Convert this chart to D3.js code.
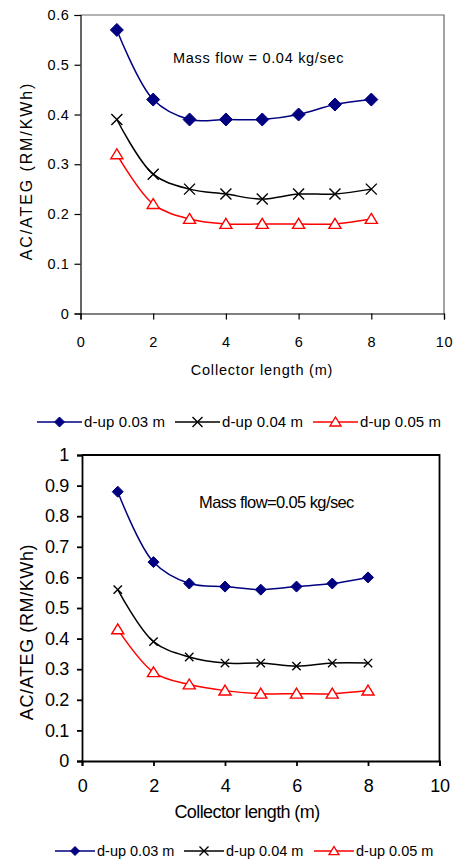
<!DOCTYPE html>
<html>
  <head>
    <meta charset="utf-8">
    <title>AC/ATEG vs collector length</title>
    <script src="https://d3js.org/d3.v7.min.js"></script>
    <style>
      body { margin: 0; background: #fff; }
      svg { display: block; font-family: "Liberation Sans", Arial, sans-serif; }
    </style>
  </head>
  <body>
    <svg id="chart" width="457" height="863"></svg>
    <script>
      // chart data
      const collectorLength = [1, 2, 3, 4, 5, 6, 7, 8];
      const seriesNames = ["d-up 0.03 m", "d-up 0.04 m", "d-up 0.05 m"];
      // mass flow 0.04 kg/sec
      const flow04Dup003 = [0.57, 0.43, 0.39, 0.39, 0.39, 0.40, 0.42, 0.43];
      const flow04Dup004 = [0.39, 0.28, 0.25, 0.24, 0.23, 0.24, 0.24, 0.25];
      const flow04Dup005 = [0.32, 0.22, 0.19, 0.18, 0.18, 0.18, 0.18, 0.19];
      // mass flow 0.05 kg/sec
      const flow05Dup003 = [0.88, 0.65, 0.58, 0.57, 0.56, 0.57, 0.58, 0.60];
      const flow05Dup004 = [0.56, 0.39, 0.34, 0.32, 0.32, 0.31, 0.32, 0.32];
      const flow05Dup005 = [0.43, 0.29, 0.25, 0.23, 0.22, 0.22, 0.22, 0.23];
      // ticks
      const xTicks = [0, 2, 4, 6, 8, 10];
      const yTicksTop = [0, 0.1, 0.2, 0.3, 0.4, 0.5, 0.6];
      const yTicksBottom = [0, 0.1, 0.2, 0.3, 0.4, 0.5, 0.6, 0.7, 0.8, 0.9, 1];
      const titles = ["Mass flow = 0.04 kg/sec", "Mass flow=0.05 kg/sec"];
      const xTitle = "Collector length (m)";
      const yTitle = "AC/ATEG (RM/KWh)";

      const colours = ["#000080", "#000000", "#ff0000"];
      const svg = d3.select("#chart");

      // marker shapes, centred on 0,0
      function marker(type, s) {
        if (type === 0) return "M0," + (-s) + "L" + s + ",0L0," + s + "L" + (-s) + ",0Z";
        if (type === 1) return "M" + (-s) + "," + (-s) + "L" + s + "," + s + "M" + (-s) + "," + s + "L" + s + "," + (-s);
        return "M0," + (-s) + "L" + (s * 1.1) + "," + (s * 0.8) + "L" + (-s * 1.1) + "," + (s * 0.8) + "Z";
      }

      function drawMarker(g, type, s, colour) {
        g.append("path")
          .attr("d", marker(type, s))
          .attr("fill", type === 0 ? colour : type === 2 ? "#fff" : "none")
          .attr("stroke", colour)
          .attr("stroke-width", type === 0 ? 1 : 1.4);
      }

      function drawChart(cfg) {
        const x = d3.scaleLinear().domain([0, 10]).range([cfg.left, cfg.right]);
        const y = d3.scaleLinear().domain([0, cfg.yMax]).range([cfg.bottom, cfg.top]);
        const g = svg.append("g");

        // frame (top and right)
        g.append("path")
          .attr("d", "M" + cfg.left + "," + cfg.top + "H" + cfg.right + "V" + cfg.bottom)
          .attr("fill", "none")
          .attr("stroke", cfg.frame)
          .attr("stroke-width", cfg.axisWidth);

        const yAxis = g.append("g")
          .attr("transform", "translate(" + cfg.left + ",0)")
          .call(d3.axisLeft(y).tickValues(cfg.yTicks).tickSizeOuter(0).tickSize(cfg.tick).tickPadding(cfg.yPad).tickFormat(d => String(d)));
        const xAxis = g.append("g")
          .attr("transform", "translate(0," + cfg.bottom + ")")
          .call(d3.axisBottom(x).tickValues(xTicks).tickSizeOuter(0).tickSize(cfg.tick).tickPadding(cfg.xPad).tickFormat(d => String(d)));
        [xAxis, yAxis].forEach(a => {
          a.select(".domain").attr("stroke", "#000").attr("stroke-width", cfg.axisWidth);
          a.selectAll(".tick line").attr("stroke", "#000").attr("stroke-width", cfg.axisWidth);
          a.selectAll(".tick text")
            .attr("fill", "#000")
            .style("font-size", cfg.tickFont + "px")
            .style("letter-spacing", cfg.tickSpacing + "px")
            .style("font-family", "Liberation Sans, Arial, sans-serif");
        });

        // series
        const line = d3.line()
          .x((d, i) => x(collectorLength[i]))
          .y(d => y(d))
          .curve(d3.curveCatmullRom.alpha(0.5));
        cfg.series.forEach((values, s) => {
          g.append("path")
            .attr("d", line(values))
            .attr("fill", "none")
            .attr("stroke", colours[s])
            .attr("stroke-width", 1.5);
        });
        cfg.series.forEach((values, s) => {
          values.forEach((v, i) => {
            const m = g.append("g")
              .attr("transform", "translate(" + x(collectorLength[i]) + "," + y(v) + ")");
            drawMarker(m, s, cfg.markerSize[s], colours[s]);
          });
        });

        // texts
        g.append("text")
          .attr("x", cfg.titleX).attr("y", cfg.titleY)
          .style("font-size", cfg.titleFont + "px")
          .style("letter-spacing", cfg.titleSpacing + "px")
          .text(cfg.title);
        g.append("text")
          .attr("x", cfg.xTitleX).attr("y", cfg.xTitleY)
          .attr("text-anchor", "middle")
          .style("font-size", cfg.xTitleFont + "px")
          .style("letter-spacing", cfg.xTitleSpacing + "px")
          .text(xTitle);
        g.append("text")
          .attr("transform", "translate(" + cfg.yTitleX + "," + cfg.yTitleY + ") rotate(-90)")
          .attr("text-anchor", "middle")
          .style("font-size", cfg.yTitleFont + "px")
          .style("letter-spacing", cfg.yTitleSpacing + "px")
          .text(yTitle);

        // legend
        const legend = g.append("g");
        seriesNames.forEach((name, s) => {
          const item = legend.append("g")
            .attr("transform", "translate(" + cfg.legendX[s] + "," + cfg.legendY + ")");
          item.append("line")
            .attr("x1", 0).attr("x2", cfg.legendLine)
            .attr("stroke", colours[s])
            .attr("stroke-width", 1.5);
          const m = item.append("g").attr("transform", "translate(" + (cfg.legendLine / 2) + ",0)");
          drawMarker(m, s, cfg.legendMarker, colours[s]);
          item.append("text")
            .attr("x", cfg.legendLine + 2)
            .attr("y", cfg.legendFont * 0.36)
            .style("font-size", cfg.legendFont + "px")
            .style("letter-spacing", cfg.legendSpacing + "px")
            .text(name);
        });
      }

      drawChart({
        left: 80.5, right: 444, top: 15, bottom: 313.5, yMax: 0.6, yTicks: yTicksTop,
        frame: "#666", axisWidth: 1.2, tick: 6, yPad: 5, xPad: 17,
        tickFont: 14.5, tickSpacing: 0.6,
        series: [flow04Dup003, flow04Dup004, flow04Dup005],
        markerSize: [6.5, 5.5, 5.5],
        title: titles[0], titleX: 173, titleY: 63, titleFont: 14.5, titleSpacing: 0.7,
        xTitleX: 262, xTitleY: 375, xTitleFont: 14.5, xTitleSpacing: 0.8,
        yTitleX: 32, yTitleY: 171, yTitleFont: 16, yTitleSpacing: 1.9,
        legendX: [37, 175, 313], legendY: 422, legendLine: 45, legendMarker: 5,
        legendFont: 15, legendSpacing: 0.1
      });

      drawChart({
        left: 82, right: 439.5, top: 455, bottom: 761, yMax: 1, yTicks: yTicksBottom,
        frame: "#000", axisWidth: 1.8, tick: 5, yPad: 8, xPad: 13,
        tickFont: 18, tickSpacing: -0.3,
        series: [flow05Dup003, flow05Dup004, flow05Dup005],
        markerSize: [5.5, 4.2, 5.5],
        title: titles[1], titleX: 199, titleY: 508, titleFont: 16.5, titleSpacing: -0.6,
        xTitleX: 247, xTitleY: 818, xTitleFont: 18, xTitleSpacing: -0.6,
        yTitleX: 33, yTitleY: 632, yTitleFont: 18, yTitleSpacing: 0.6,
        legendX: [55, 184, 314], legendY: 851, legendLine: 40, legendMarker: 4.5,
        legendFont: 14.5, legendSpacing: 0
      });
    </script>
  </body>
</html>
